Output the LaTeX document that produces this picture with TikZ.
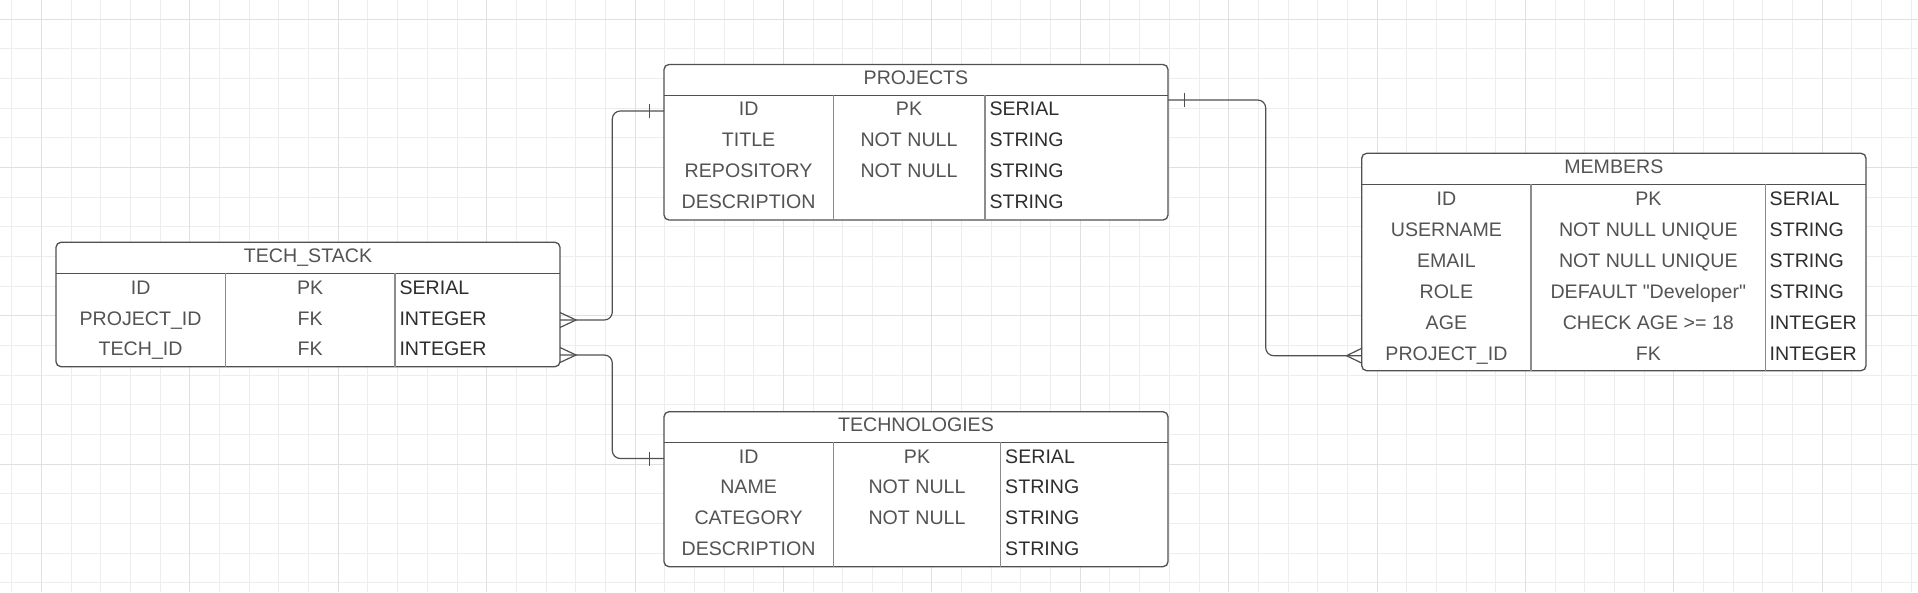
\documentclass[tikz,border=0pt]{standalone}
\usepackage{fontspec}
\setmainfont{Liberation Sans}[Ligatures=TeXOff]
\definecolor{gridminor}{HTML}{EDEDED}
\definecolor{gridmajor}{HTML}{E0E0E0}
\definecolor{edgecol}{HTML}{505050}
\definecolor{divcol}{HTML}{8C8C8C}
\definecolor{nametxt}{HTML}{535353}
\definecolor{typetxt}{HTML}{2E2E2E}
\newcommand\erfont{\fontsize{19.6pt}{22pt}\selectfont}
\tikzset{
  gminor/.style={draw=gridminor, line width=1pt},
  gmajor/.style={draw=gridmajor, line width=1.1pt},
  tblbox/.style={draw=edgecol, line width=1.3pt, rounded corners=5pt, fill=white, inner sep=0pt, outer sep=0pt, anchor=north west},
  hsep/.style={draw=edgecol, line width=1.3pt},
  vsep/.style={draw=divcol, line width=1.4pt},
  tbltitle/.style={anchor=base, inner sep=0pt, text=nametxt, font=\erfont},
  cell/.style={anchor=base, inner sep=0pt, text=nametxt, font=\erfont},
  typecell/.style={anchor=base west, inner sep=0pt, text=typetxt, font=\erfont},
  conn/.style={draw=edgecol, line width=1.2pt},
  connpath/.style={conn, rounded corners=8pt},
}
% #1 name, #2 x left, #3 x div1, #4 x div2, #5 x right, #6 y top, #7 y header, #8 y bottom, #9 title
\newcommand\erTable[9]{%
  \node[tblbox, minimum width={#5-#2}, minimum height={#8-#6}] (#1) at (#2,#6) {};
  \draw[hsep] (#2,#7) -- (#5,#7);
  \draw[vsep] (#3,#7) -- (#3,#8);
  \draw[vsep] (#4,#7) -- (#4,#8);
  \node[tbltitle] (#1-title) at ({(#2+#5)/2},{(#6+#7)/2+4.7}) {#9};
}
% #1 name, #2 y center, #3 col1 center, #4 col2 center, #5 type left, #6 #7 #8 texts
\newcommand\erRow[8]{%
  \node[cell] (#1-a) at (#3,{#2+7}) {#6};
  \node[cell] (#1-b) at (#4,{#2+7}) {#7};
  \node[typecell] (#1-c) at (#5,{#2+7}) {#8};
}
\begin{document}
\begin{tikzpicture}[x=1pt,y=-1pt]
\useasboundingbox (0,0) rectangle (1918,592);
\fill[white] (0,0) rectangle (1918,592);
% grid
\foreach \i in {0,...,64} {\draw[gminor] ({11.8+29.68*\i},0) -- ({11.8+29.68*\i},592);}
\foreach \i in {0,...,19} {\draw[gminor] (0,{19.3+29.66*\i}) -- (1918,{19.3+29.66*\i});}
\foreach \i in {0,...,12} {\draw[gmajor] ({41.5+148.4*\i},0) -- ({41.5+148.4*\i},592);}
\foreach \i in {0,...,3} {\draw[gmajor] (0,{19.3+148.3*\i}) -- (1918,{19.3+148.3*\i});}

% tables
\erTable{projects}{664}{833.3}{985}{1168}{64.5}{95.3}{220}{PROJECTS}
\erRow{pj1}{108.2}{748.6}{909}{989.3}{ID}{PK}{SERIAL}
\erRow{pj2}{139.3}{748.6}{909}{989.3}{TITLE}{NOT NULL}{STRING}
\erRow{pj3}{170.5}{748.6}{909}{989.3}{REPOSITORY}{NOT NULL}{STRING}
\erRow{pj4}{201.6}{748.6}{909}{989.3}{DESCRIPTION}{}{STRING}

\erTable{technologies}{664}{833.3}{1000.7}{1168}{411.7}{442.3}{566.7}{TECHNOLOGIES}
\erRow{te1}{456.1}{748.6}{917}{1005}{ID}{PK}{SERIAL}
\erRow{te2}{486.9}{748.6}{917}{1005}{NAME}{NOT NULL}{STRING}
\erRow{te3}{517.6}{748.6}{917}{1005}{CATEGORY}{NOT NULL}{STRING}
\erRow{te4}{548.4}{748.6}{917}{1005}{DESCRIPTION}{}{STRING}

\erTable{ts}{56}{225.3}{395}{560}{242.3}{273.3}{366.7}{TECH\_STACK}
\erRow{ts1}{287.3}{140.6}{310.1}{399.3}{ID}{PK}{SERIAL}
\erRow{ts2}{318.3}{140.6}{310.1}{399.3}{PROJECT\_ID}{FK}{INTEGER}
\erRow{ts3}{348.6}{140.6}{310.1}{399.3}{TECH\_ID}{FK}{INTEGER}

\erTable{members}{1361.7}{1531}{1765.7}{1866}{153.3}{184.3}{370.7}{MEMBERS}
\erRow{mb1}{198.3}{1446.4}{1648.3}{1769.5}{ID}{PK}{SERIAL}
\erRow{mb2}{229.3}{1446.4}{1648.3}{1769.5}{USERNAME}{NOT NULL UNIQUE}{STRING}
\erRow{mb3}{260.2}{1446.4}{1648.3}{1769.5}{EMAIL}{NOT NULL UNIQUE}{STRING}
\erRow{mb4}{291.2}{1446.4}{1648.3}{1769.5}{ROLE}{DEFAULT "Developer"}{STRING}
\erRow{mb5}{322.2}{1446.4}{1648.3}{1769.5}{AGE}{CHECK AGE >= 18}{INTEGER}
\erRow{mb6}{353.2}{1446.4}{1648.3}{1769.5}{PROJECT\_ID}{FK}{INTEGER}

% connectors
\coordinate (busL) at (612.3,0);
\coordinate (busR) at (1265.7,0);

\draw[connpath] (ts.east |- 0,320) -| (busL |- 0,111) -- (projects.west |- 0,111);
\draw[conn] (560,312.5) -- (576,320) -- (560,327.5);
\draw[conn] (649.5,104) -- (649.5,118);

\draw[connpath] (ts.east |- 0,355) -| (busL |- 0,458.5) -- (technologies.west |- 0,458.5);
\draw[conn] (560,347.5) -- (576,355) -- (560,362.5);
\draw[conn] (649.5,451.5) -- (649.5,465.5);

\draw[connpath] (projects.east |- 0,100) -| (busR |- 0,355.7) -- (members.west |- 0,355.7);
\draw[conn] (1184.3,92.7) -- (1184.3,106.7);
\draw[conn] (1362,348.2) -- (1346.5,355.7) -- (1362,363.2);
\end{tikzpicture}
\end{document}
